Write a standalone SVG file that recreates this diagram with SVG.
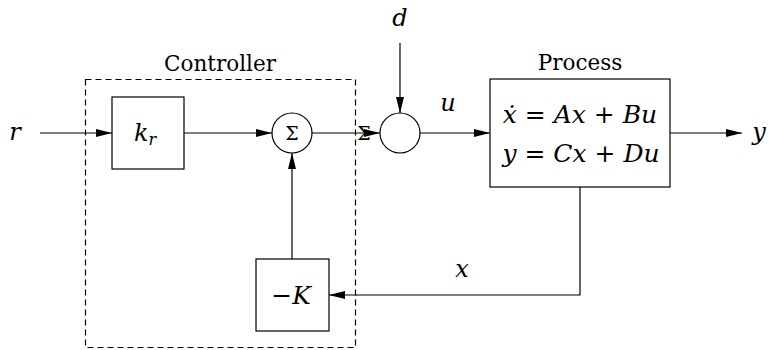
<svg xmlns="http://www.w3.org/2000/svg" width="769" height="350" viewBox="0 0 769 350">
<style>
.b{fill:#fff;stroke:#000;stroke-width:1.2}
.c{fill:none;stroke:#000;stroke-width:1.2}
.w{fill:none;stroke:#000;stroke-width:1.2;marker-end:url(#ah)}
text{font-family:'DejaVu Serif',serif;fill:#000}
.t{font-size:21.5px}
.m{font-style:italic;font-size:24px}
.e{font-style:italic;font-size:25px}
.s{font-size:19px}
</style>
<defs>
<marker id="ah" markerWidth="16" markerHeight="8" refX="16" refY="4" orient="auto" markerUnits="userSpaceOnUse">
<path d="M0,0 L16,4 L0,8 z" fill="#000"/>
</marker>
</defs>
<rect id="controller" x="85.5" y="79.5" width="270" height="268" fill="none" stroke="#000" stroke-width="1.2" stroke-dasharray="6,4"/>
<text class="t" x="220" y="71" text-anchor="middle">Controller</text>
<g id="connectors">
<line class="w" x1="40" y1="133" x2="112" y2="133"/>
<line class="w" x1="184" y1="133" x2="272" y2="133"/>
<line class="w" x1="312" y1="133" x2="380" y2="133"/>
<line class="w" x1="400" y1="43" x2="400" y2="113"/>
<line class="w" x1="420" y1="133" x2="490" y2="133"/>
<line class="w" x1="670" y1="133" x2="742" y2="133"/>
<polyline class="w" points="580,187 580,295 329,295"/>
<line class="w" x1="292" y1="259" x2="292" y2="153"/>
</g>
<g id="kr">
<rect class="b" x="112" y="97" width="72" height="72"/>
<text class="m" x="134" y="141">k<tspan font-size="16" dy="4">r</tspan></text>
</g>
<g id="sum1">
<circle class="b" cx="292" cy="133" r="20"/>
<text class="s" x="292" y="140" text-anchor="middle">Σ</text>
</g>
<text class="s" x="364" y="140" text-anchor="middle">Σ</text>
<g id="sum2">
<circle class="c" cx="400" cy="133" r="20"/>
</g>
<g id="process">
<rect class="b" x="490" y="79" width="180" height="108"/>
<text class="t" x="580" y="70" text-anchor="middle">Process</text>
<text class="e" x="580" y="123" text-anchor="middle">ẋ <tspan font-style="normal">=</tspan> Ax <tspan font-style="normal">+</tspan> Bu</text>
<text class="e" x="581" y="162" text-anchor="middle">y <tspan font-style="normal">=</tspan> Cx <tspan font-style="normal">+</tspan> Du</text>
</g>
<g id="negK">
<rect class="b" x="256" y="259" width="73" height="72"/>
<text class="e" x="291" y="304" text-anchor="middle"><tspan font-style="normal">−</tspan>K</text>
</g>
<text class="m" x="15" y="140" text-anchor="middle">r</text>
<text class="m" x="400" y="26" text-anchor="middle">d</text>
<text class="m" x="448" y="111" text-anchor="middle">u</text>
<text class="m" x="462" y="277" text-anchor="middle">x</text>
<text class="m" x="759" y="140" text-anchor="middle">y</text>
</svg>
